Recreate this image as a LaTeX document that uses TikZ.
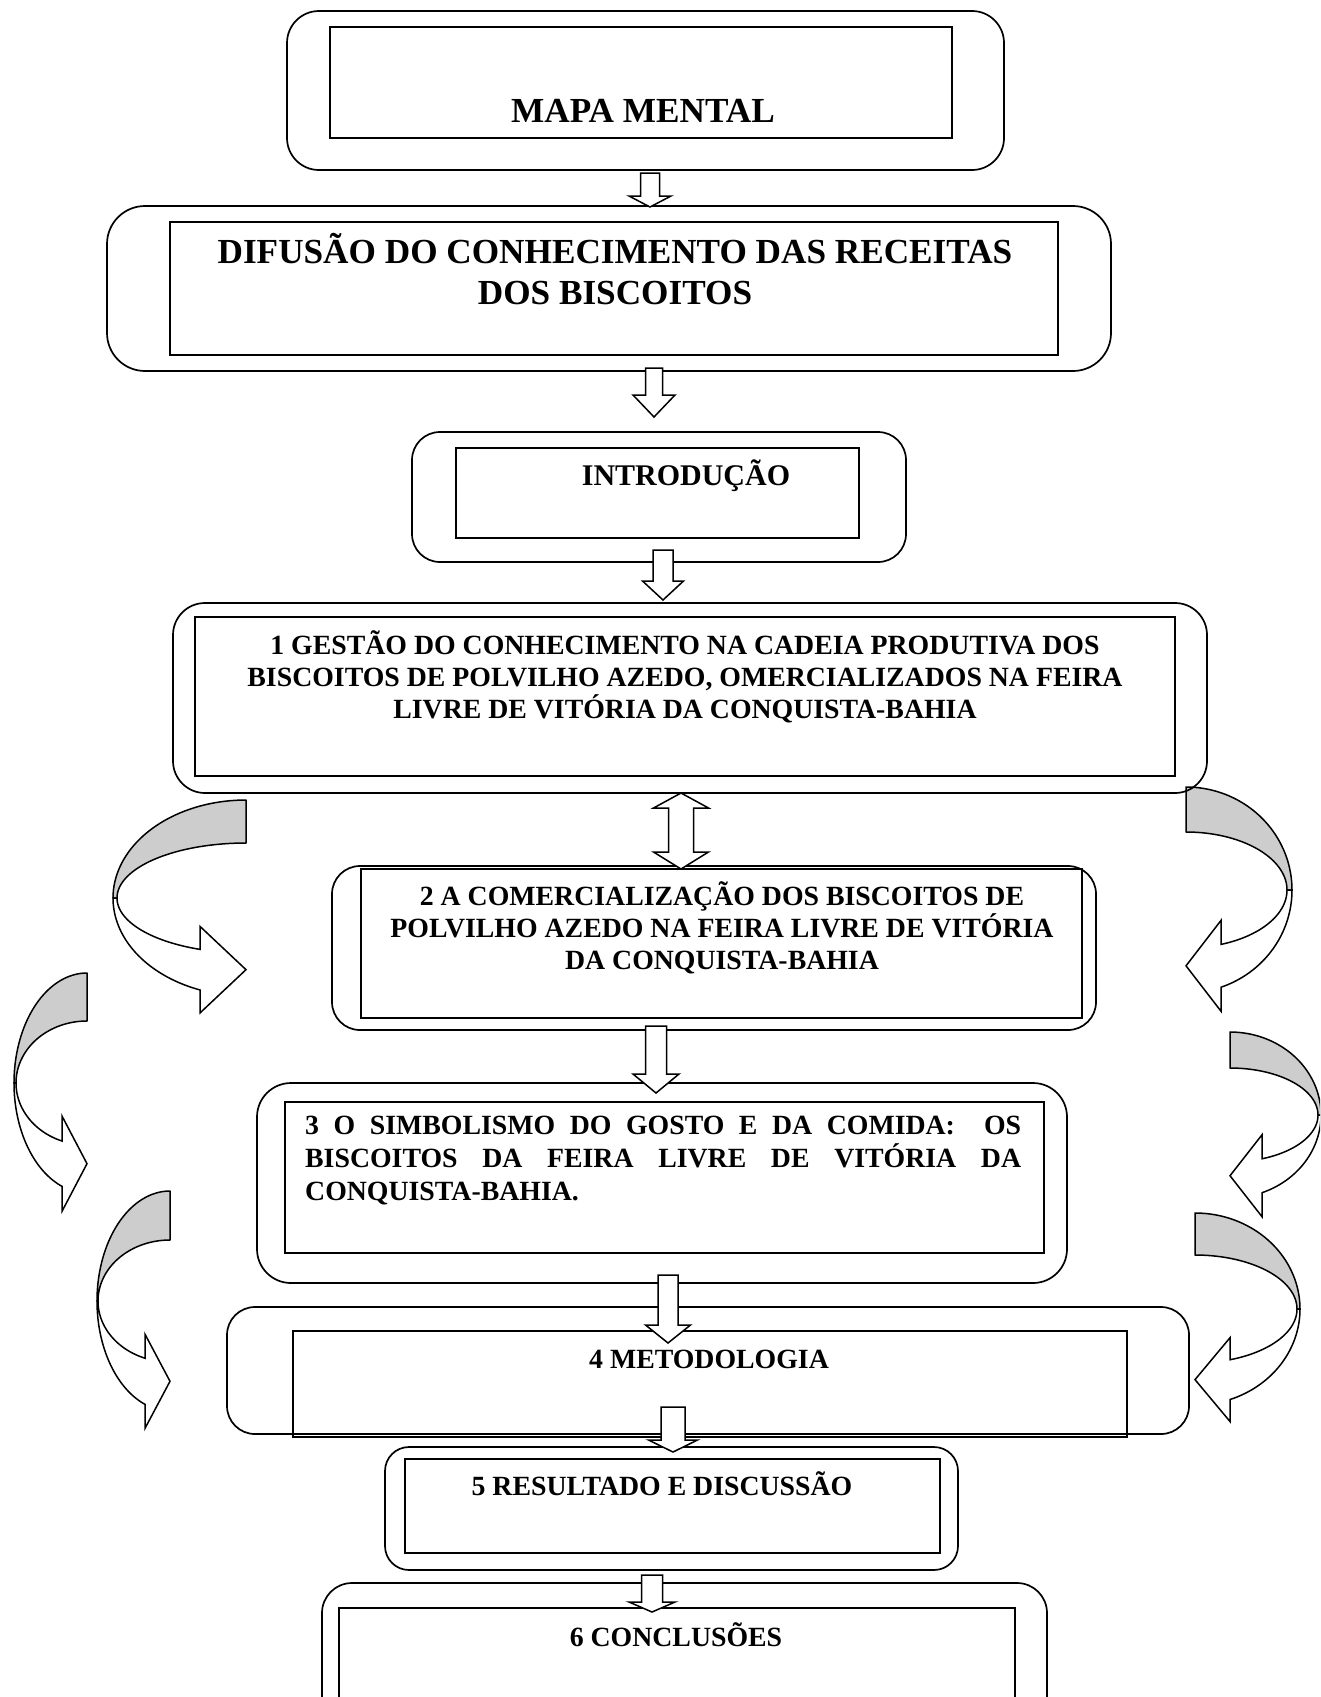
\documentclass[tikz,border=0pt]{standalone}
\usepackage{fontspec}
\setmainfont{Liberation Serif}
\usetikzlibrary{fit}
\definecolor{bandgray}{RGB}{205,205,205}

\newcommand\curvedarrow[9]{%
  % #1 cx #2 cy #3 a1 #4 b1 #5 a2 #6 b2 #7 xb #8 e #9 s
  \pgfmathsetmacro\cvTo{360-acos((#9)*(#7-#1)/#3)}%
  \pgfmathsetmacro\cvTi{360-acos((#9)*(#7-#1)/#5)}%
  \pgfmathsetmacro\cvYo{#2-#4*sin(\cvTo)}%
  \pgfmathsetmacro\cvYi{#2-#6*sin(\cvTi)}%
  \pgfmathsetmacro\cvYm{(\cvYo+\cvYi)/2}%
  \pgfmathsetmacro\cvYa{\cvYi-#8}%
  \pgfmathsetmacro\cvYb{\cvYo+#8}%
  \filldraw[cvback] plot[domain=90:180,samples=40] ({#1+(#9)*#3*cos(\x)},{#2-#4*sin(\x)})
     -- plot[domain=180:90,samples=40] ({#1+(#9)*#5*cos(\x)},{#2-#6*sin(\x)}) -- cycle;
  \filldraw[cvfront] plot[domain=180:\cvTo,samples=40] ({#1+(#9)*#3*cos(\x)},{#2-#4*sin(\x)})
     -- (#7,\cvYb) -- (#1,\cvYm) -- (#7,\cvYa)
     -- plot[domain=\cvTi:180,samples=40] ({#1+(#9)*#5*cos(\x)},{#2-#6*sin(\x)}) -- cycle;
}

\newcommand\dnarrow[6]{%
  % #1 cx #2 ytop #3 ybase #4 ytip #5 shaft half width #6 head half width
  \draw[blk] ({#1-#5},#2) -- ({#1+#5},#2) -- ({#1+#5},#3) -- ({#1+#6},#3)
    -- (#1,#4) -- ({#1-#6},#3) -- ({#1-#5},#3) -- cycle;
}

\begin{document}
\begin{tikzpicture}[x=1pt,y=-1pt,
  outerbox/.style={draw, line width=1.7pt, inner sep=0pt, rounded corners=#1},
  innerbox/.style={draw, line width=2.1pt, inner sep=0pt},
  cvback/.style={draw, line width=1.5pt, fill=bandgray, line join=round},
  cvfront/.style={draw, line width=1.5pt, fill=white, line join=miter},
  blk/.style={draw, line width=1.5pt, fill=white},
  bigtxt/.style={font=\fontsize{35.2}{40}\selectfont\bfseries, inner sep=0pt, anchor=base},
  midtxt/.style={font=\fontsize{30}{36}\selectfont\bfseries, inner sep=0pt, anchor=base},
  sectxt/.style={font=\fontsize{27.8}{33}\selectfont\bfseries, inner sep=0pt, anchor=base}]

\useasboundingbox (0,0) rectangle (1320,1697);
\clip (0,0) rectangle (1320,1697);

% curved arrows (left side)
\curvedarrow{246}{898}{133}{98}{129}{55}{200}{23}{1}
\curvedarrow{87}{1083}{73}{110}{71}{62}{62}{25}{1}
\curvedarrow{170}{1301}{73}{110}{72}{61}{145}{24}{1}
% curved arrows (right side)
\curvedarrow{1186}{890}{106}{103}{101}{58}{1221}{24}{-1}
\curvedarrow{1230}{1115}{91}{83}{88}{47}{1262}{24}{-1}
\curvedarrow{1195}{1309}{105}{96}{102}{54}{1230}{22}{-1}

% boxes
\node[outerbox=32pt, fit={(287,11) (1004,170)}] (b1o) {};
\node[innerbox, fit={(330,27) (952,138)}] (b1i) {};
\node[outerbox=38pt, fit={(107,206) (1111,371)}] (b2o) {};
\node[innerbox, fit={(170,222) (1058,355)}] (b2i) {};
\node[outerbox=28pt, fit={(412,432) (906,562)}] (b3o) {};
\node[innerbox, fit={(456,448) (859,538)}] (b3i) {};
\node[outerbox=32pt, fit={(173,603) (1207,793)}] (b4o) {};
\node[innerbox, fit={(195,617) (1175,776)}] (b4i) {};
\node[outerbox=28pt, fit={(332,866) (1096,1030)}] (b5o) {};
\node[innerbox, fit={(361,869) (1082,1018)}] (b5i) {};
\node[outerbox=34pt, fit={(257,1083) (1067,1283)}] (b6o) {};
\node[innerbox, fit={(285,1102) (1044,1253)}] (b6i) {};
\node[outerbox=28pt, fit={(227,1307) (1189,1434)}] (b7o) {};
\node[innerbox, fit={(293,1331) (1127,1437)}] (b7i) {};
\node[outerbox=24pt, fit={(385,1447) (958,1570)}] (b8o) {};
\node[innerbox, fit={(405,1459) (940,1553)}] (b8i) {};
\node[outerbox=30pt, fit={(322,1583) (1047,1760)}] (b9o) {};
\node[innerbox, fit={(339,1608) (1015,1760)}] (b9i) {};

% texts
\node[bigtxt] (t1) at (643,122) {MAPA MENTAL};
\node[bigtxt] (t2a) at (615,263) {DIFUSÃO DO CONHECIMENTO DAS RECEITAS};
\node[bigtxt] (t2b) at (615,304) {DOS BISCOITOS};
\node[midtxt] (t3) at (686,485) {INTRODUÇÃO};
\node[sectxt] (t4a) at (685,654) {1 GESTÃO DO CONHECIMENTO NA CADEIA PRODUTIVA DOS};
\node[sectxt] (t4b) at (685,686) {BISCOITOS DE POLVILHO AZEDO, OMERCIALIZADOS NA FEIRA};
\node[sectxt] (t4c) at (685,718) {LIVRE DE VITÓRIA DA CONQUISTA-BAHIA};
\node[sectxt] (t5a) at (722,905.5) {2 A COMERCIALIZAÇÃO DOS BISCOITOS DE};
\node[sectxt] (t5b) at (722,937.5) {POLVILHO AZEDO NA FEIRA LIVRE DE VITÓRIA};
\node[sectxt] (t5c) at (722,969.5) {DA CONQUISTA-BAHIA};
\node[sectxt, anchor=base west] (t6a) at (305,1134) {\makebox[716pt][s]{3 O SIMBOLISMO DO GOSTO E DA COMIDA: \ OS}};
\node[sectxt, anchor=base west] (t6b) at (305,1167) {\makebox[716pt][s]{BISCOITOS DA FEIRA LIVRE DE VITÓRIA DA}};
\node[sectxt, anchor=base west] (t6c) at (305,1200) {CONQUISTA-BAHIA.};
\node[sectxt] (t7) at (709,1368) {4 METODOLOGIA};
\node[sectxt] (t8) at (662,1495) {5 RESULTADO E DISCUSSÃO};
\node[sectxt] (t9) at (676,1646) {6 CONCLUSÕES};

% block arrows between boxes
\dnarrow{650}{173}{196}{207}{9.5}{21}
\dnarrow{654}{368}{395}{417}{8.5}{21}
\dnarrow{663}{550}{581}{600}{10}{20.5}
\dnarrow{656}{1026}{1074}{1093}{10.5}{23}
\dnarrow{668}{1275}{1325}{1343}{10}{22.5}
\dnarrow{673}{1407}{1440}{1452}{12}{24.5}
\dnarrow{652}{1575}{1602}{1612}{10.5}{23}
% double arrow between section 1 and section 2
\draw[blk] (681,793) -- (708.5,808) -- (693.5,808) -- (693.5,852) -- (708.5,852)
  -- (681,869) -- (653.5,852) -- (668.5,852) -- (668.5,808) -- (653.5,808) -- cycle;
\end{tikzpicture}
\end{document}
